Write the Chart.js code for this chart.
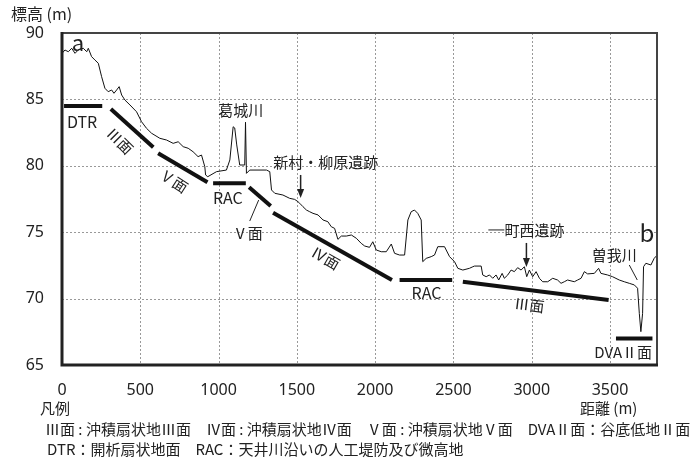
<!DOCTYPE html>
<html>
<head>
<meta charset="utf-8">
<script src="https://cdn.jsdelivr.net/npm/chart.js@4/dist/chart.umd.min.js"></script>
<style>
  body { margin: 0; background: #fff; }
  #wrap { position: relative; width: 692px; height: 461px; font-family: 'Noto Sans CJK JP', 'Noto Sans', sans-serif; color: #222; }
  canvas { position: absolute; left: 0; top: 0; }
  .txt { position: absolute; white-space: pre; line-height: 1; }
</style>
</head>
<body>
<div id="wrap">
  <canvas id="profileChart" width="692" height="461"></canvas>
  <div class="txt" style="left:11px; top:5px; font-size:16px;">標高 (m)</div>
  <div class="txt" style="left:40px; top:400px; font-size:15px;">凡例</div>
  <div class="txt" style="left:580px; top:400px; font-size:15px;">距離 (m)</div>
  <div class="txt" id="legend1" style="left:45px; top:421px; font-size:15px;">Ⅲ面 : 沖積扇状地Ⅲ面　Ⅳ面 : 沖積扇状地Ⅳ面　Ⅴ面 : 沖積扇状地Ⅴ面　DVAⅡ面：谷底低地Ⅱ面</div>
  <div class="txt" id="legend2" style="left:47px; top:441px; font-size:15px;">DTR：開析扇状地面　RAC：天井川沿いの人工堤防及び微高地</div>
</div>
<script>
// 지형 단면 (거리 m, 표고 m)
const distance = [0, 19, 40, 62, 83, 104, 136, 158, 168, 189, 210, 232, 253, 274, 295, 317, 332, 349, 365, 381,
  402, 434, 476, 508, 540, 572, 625, 668, 710, 742, 774, 806, 837, 869, 891, 912, 917, 931, 987, 1050,
  1072, 1093, 1103, 1116, 1135, 1167, 1172, 1178, 1199, 1306, 1327,
  1338, 1359, 1411, 1454, 1486, 1507, 1518, 1539, 1561, 1582, 1603, 1635, 1667, 1698, 1720, 1741, 1762, 1784, 1816, 1848,
  1880, 1911, 1933, 1964, 1985,
  2007, 2039, 2071, 2103, 2124, 2156, 2188, 2209, 2230, 2251, 2272, 2294, 2304, 2326, 2358, 2379, 2400,
  2443, 2475, 2507, 2528, 2560, 2602, 2624, 2634, 2677, 2687, 2709, 2730, 2751, 2772, 2789, 2811, 2825, 2847, 2868, 2889,
  2910, 2932, 2953, 2968, 2985, 3006, 3028, 3049, 3070, 3102, 3134, 3165, 3187, 3208, 3229, 3272, 3293, 3315, 3336, 3357,
  3400, 3427, 3442, 3484, 3516, 3559, 3591, 3623, 3655, 3676,
  3687, 3697, 3708, 3714, 3729, 3761, 3782, 3795];
const elevation = [88.47, 88.72, 88.59, 88.85, 88.47, 88.72, 88.85, 88.59, 88.85, 88.22, 87.97, 87.72, 86.71, 85.84, 85.58, 85.71, 85.46, 85.71, 85.96, 85.33,
  84.95, 84.58, 84.07, 83.32, 82.82, 82.45, 82.07, 81.94, 81.69, 81.81, 81.44, 81.32, 81.06, 80.69, 80.81, 79.93, 79.31, 79.18, 79.56, 79.68,
  80.44, 82.94, 82.85, 81.57, 80.06, 80.06, 83.28, 79.43, 79.68, 79.68, 79.56,
  78.18, 77.93, 77.8, 77.55, 77.47, 77.3, 77.18, 76.92, 76.67, 76.54, 76.42, 76.3, 75.92, 75.79, 75.41, 75.29, 74.46, 74.71, 74.71, 74.79,
  74.54, 74.16, 73.96, 73.86, 74.28,
  73.66, 73.53, 73.53, 74.11, 73.41, 73.28, 73.28, 75.92, 76.54, 76.67, 76.42, 75.92, 72.78, 73.03, 73.16, 73.28, 73.91,
  73.91, 73.16, 72.78, 72.28, 72.15, 72.28, 72.4, 72.45, 72.45, 71.78, 71.65, 71.78, 71.53, 71.78, 71.4, 71.9, 71.53, 71.78, 72.15, 72.03,
  72.33, 72.15, 72.4, 71.65, 72.15, 71.65, 72.03, 71.53, 71.27, 71.27, 71.53, 71.4, 71.15, 71.27, 71.4, 71.27, 71.4, 71.53, 72.03, 71.86,
  71.9, 72.28, 71.9, 71.78, 71.65, 71.4, 71.27, 71.15, 71.03, 70.78,
  68.89, 67.51, 68.89, 72.4, 72.66, 72.53, 73.03, 73.2];

// 지형면 구분 선분
const surfaceNames = ['DTR', 'Ⅲ面', 'Ⅴ面', 'RAC', 'Ⅴ面', 'Ⅳ面', 'RAC', 'Ⅲ面', 'DVAⅡ面'];
const surfaceX = [[13, 257], [312, 583], [614, 929], [965, 1174], [1195, 1333], [1348, 2107], [2156, 2492], [2560, 3491], [3538, 3771]];
const surfaceY = [[84.5, 84.5], [84.28, 81.39], [80.94, 78.76], [78.68, 78.68], [78.38, 76.97], [76.47, 71.4], [71.4, 71.4], [71.27, 69.9], [67.0, 67.0]];

// 축 눈금
const xTicks = [0, 500, 1000, 1500, 2000, 2500, 3000, 3500];
const yTicks = [65, 70, 75, 80, 85, 90];

// 그림 안의 글자 (데이터 좌표)
const labels = [
  { text: 'a', x: 102, y: 89.25, size: 22, angle: 0 },
  { text: 'DTR', x: 128, y: 83.3, size: 16, angle: 0 },
  { text: 'Ⅲ面', x: 370, y: 81.87, size: 15, angle: 45 },
  { text: 'Ⅴ面', x: 714, y: 78.86, size: 15, angle: 33 },
  { text: '葛城川', x: 1142, y: 84.2, size: 15, angle: 0 },
  { text: 'RAC', x: 1059, y: 77.58, size: 16, angle: 0 },
  { text: 'Ⅴ面', x: 1186, y: 74.94, size: 15, angle: 0 },
  { text: '新村・柳原遺跡', x: 1684, y: 80.29, size: 15, angle: 0 },
  { text: 'Ⅳ面', x: 1684, y: 73.06, size: 15, angle: 30 },
  { text: 'RAC', x: 2328, y: 70.42, size: 16, angle: 0 },
  { text: 'Ⅲ面', x: 2985, y: 69.52, size: 15, angle: 7 },
  { text: '町西遺跡', x: 3017, y: 75.17, size: 15, angle: 0 },
  { text: '曽我川', x: 3527, y: 73.28, size: 15, angle: 0 },
  { text: 'b', x: 3736, y: 74.94, size: 24, angle: 0 },
  { text: 'DVAⅡ面', x: 3584, y: 65.98, size: 15, angle: 0 }
];
const leaders = [
  { x1: 1199, y1: 75.84, x2: 1256, y2: 77.42 },
  { x1: 2723, y1: 75.17, x2: 2825, y2: 75.17 },
  { x1: 3623, y1: 72.53, x2: 3674, y2: 71.4 }
];
const arrows = [
  { x: 1524, y1: 79.31, y2: 77.58 },
  { x: 2966, y1: 74.19, y2: 72.38 }
];

// 데이터셋 만들기
const datasets = [{
  data: distance.map((d, i) => ({ x: d, y: elevation[i] })),
  borderColor: '#111',
  borderWidth: 1,
  pointRadius: 0,
  tension: 0
}];
surfaceNames.forEach((name, i) => {
  datasets.push({
    label: name,
    data: surfaceX[i].map((d, j) => ({ x: d, y: surfaceY[i][j] })),
    borderColor: '#111',
    borderWidth: 4,
    pointRadius: 0,
    borderCapStyle: 'butt'
  });
});

// 점선 격자
const gridPlugin = {
  id: 'gridPlugin',
  beforeDatasetsDraw(chart) {
    const { ctx, chartArea: a, scales: { x, y } } = chart;
    ctx.save();
    ctx.strokeStyle = '#999';
    ctx.lineWidth = 1;
    ctx.setLineDash([2, 2]);
    xTicks.forEach(v => {
      const px = Math.round(x.getPixelForValue(v)) + 0.5;
      ctx.beginPath();
      ctx.moveTo(px, a.top);
      ctx.lineTo(px, a.bottom);
      ctx.stroke();
    });
    yTicks.forEach(v => {
      const py = Math.round(y.getPixelForValue(v)) + 0.5;
      ctx.beginPath();
      ctx.moveTo(a.left, py);
      ctx.lineTo(a.right, py);
      ctx.stroke();
    });
    ctx.restore();
  }
};

// 글자, 화살표, 테두리 그리기
const annotationPlugin = {
  id: 'annotationPlugin',
  afterDatasetsDraw(chart) {
    const { ctx, chartArea: a, scales: { x, y } } = chart;
    ctx.save();
    ctx.fillStyle = '#222';
    ctx.strokeStyle = '#222';
    ctx.textAlign = 'center';
    ctx.textBaseline = 'middle';
    labels.forEach(l => {
      ctx.save();
      ctx.translate(x.getPixelForValue(l.x), y.getPixelForValue(l.y));
      ctx.rotate(l.angle * Math.PI / 180);
      ctx.font = l.size + "px 'Noto Sans CJK JP', 'Noto Sans', sans-serif";
      ctx.fillText(l.text, 0, 0);
      ctx.restore();
    });
    ctx.lineWidth = 1;
    leaders.forEach(l => {
      ctx.beginPath();
      ctx.moveTo(x.getPixelForValue(l.x1), y.getPixelForValue(l.y1));
      ctx.lineTo(x.getPixelForValue(l.x2), y.getPixelForValue(l.y2));
      ctx.stroke();
    });
    ctx.lineWidth = 1.5;
    arrows.forEach(ar => {
      const px = x.getPixelForValue(ar.x);
      const top = y.getPixelForValue(ar.y1);
      const tip = y.getPixelForValue(ar.y2);
      ctx.beginPath();
      ctx.moveTo(px, top);
      ctx.lineTo(px, tip - 6);
      ctx.stroke();
      ctx.beginPath();
      ctx.moveTo(px - 3.5, tip - 9);
      ctx.lineTo(px + 3.5, tip - 9);
      ctx.lineTo(px, tip);
      ctx.closePath();
      ctx.fill();
    });
    // 테두리
    ctx.strokeStyle = '#444';
    ctx.lineWidth = 2;
    ctx.beginPath();
    ctx.moveTo(a.left, a.top);
    ctx.lineTo(a.right, a.top);
    ctx.lineTo(a.right, a.bottom);
    ctx.stroke();
    ctx.strokeStyle = '#222';
    ctx.lineWidth = 3;
    ctx.beginPath();
    ctx.moveTo(a.left, a.top - 1);
    ctx.lineTo(a.left, a.bottom);
    ctx.lineTo(a.right + 1, a.bottom);
    ctx.stroke();
    ctx.restore();
  }
};

new Chart(document.getElementById('profileChart').getContext('2d'), {
  type: 'line',
  data: { datasets: datasets },
  options: {
    responsive: false,
    animation: false,
    devicePixelRatio: 1,
    layout: { padding: { top: 33, right: 35, left: 0, bottom: 0 } },
    plugins: { legend: { display: false }, tooltip: { enabled: false } },
    scales: {
      x: {
        type: 'linear',
        min: 0,
        max: 3800,
        afterBuildTicks: s => { s.ticks = xTicks.map(v => ({ value: v })); },
        afterFit: s => { s.height = 96; },
        grid: { display: false },
        border: { display: false },
        ticks: { padding: 8, color: '#222', maxRotation: 0, callback: v => String(v), font: { size: 16, family: "'Noto Sans', sans-serif" } }
      },
      y: {
        min: 65,
        max: 90,
        afterBuildTicks: s => { s.ticks = yTicks.map(v => ({ value: v })); },
        afterFit: s => { s.width = 62; },
        grid: { display: false },
        border: { display: false },
        ticks: { padding: 10, color: '#222', callback: v => String(v), font: { size: 16, family: "'Noto Sans', sans-serif" } }
      }
    }
  },
  plugins: [gridPlugin, annotationPlugin]
});
</script>
</body>
</html>
